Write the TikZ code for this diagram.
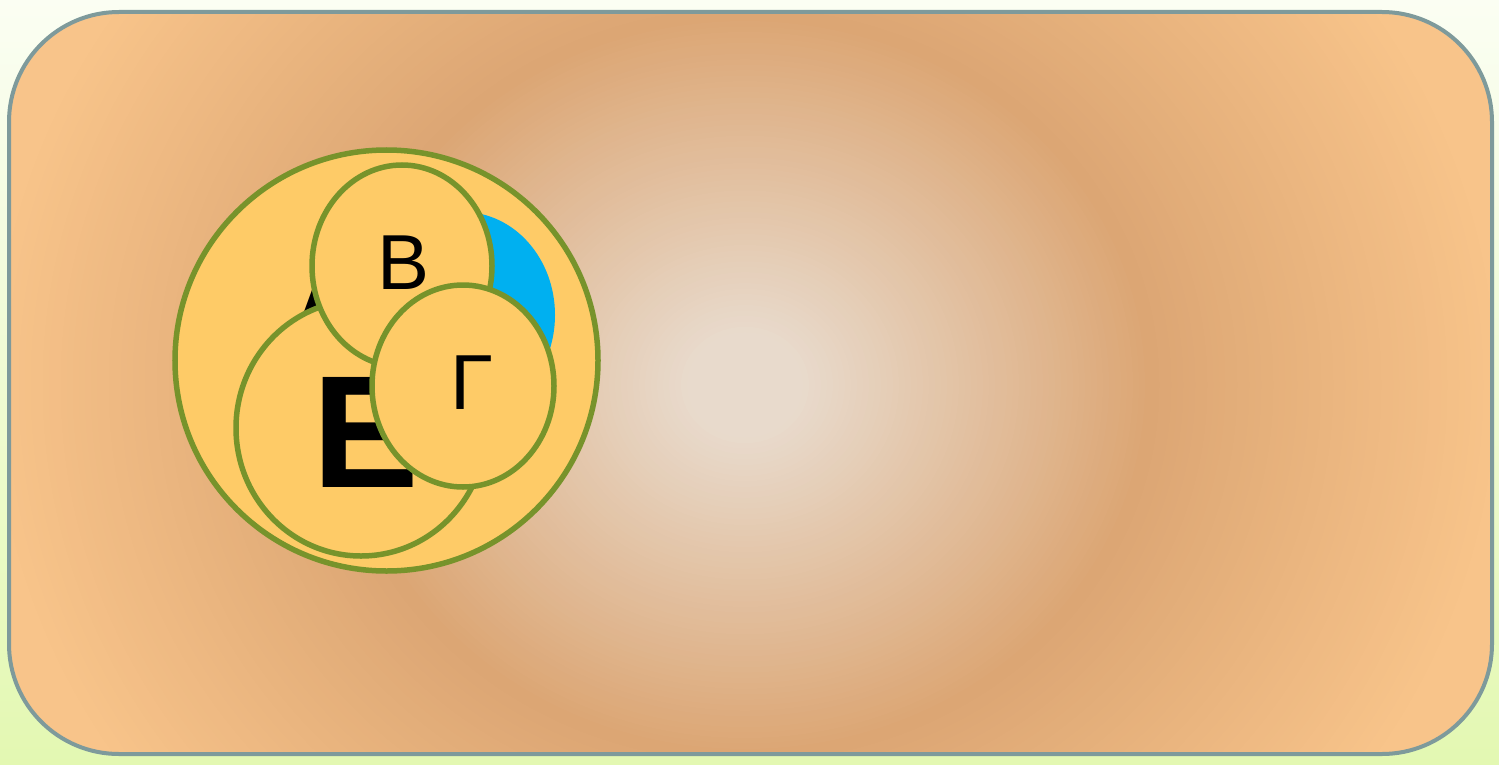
\documentclass[tikz,border=0pt]{standalone}
\usepackage{fontspec}
\setmainfont{Liberation Sans}
\usetikzlibrary{shapes.geometric}
\definecolor{bgtop}{HTML}{FBFEF3}
\definecolor{bgbot}{HTML}{E3F8B2}
\definecolor{framec}{HTML}{7E9A9B}
\definecolor{gc}{HTML}{E8DACC}
\definecolor{gm}{HTML}{DCA674}
\definecolor{ge}{HTML}{F8C48A}
\definecolor{disk}{HTML}{FECB67}
\definecolor{rim}{HTML}{77932B}
\definecolor{skyb}{HTML}{00B0F0}
\begin{document}
\begin{tikzpicture}[x=1bp,y=-1bp,
  disc/.style={ellipse, draw=rim, line width=5.5bp, fill=disk, inner sep=0pt, outer sep=0pt},
  lbl/.style={inner sep=0pt, outer sep=0pt, text=black},
  bigfont/.style={font=\fontsize{160bp}{160bp}\selectfont\bfseries},
  smallfont/.style={font=\fontsize{78bp}{78bp}\selectfont}
]
\useasboundingbox (0,0) rectangle (1499,764);
\shade[top color=bgtop, bottom color=bgbot] (0,0) rectangle (1499,764);
\begin{scope}
\clip[rounded corners=110bp] (9,12) rectangle (1492,754);
\fill[ge] (0,0) rectangle (1499,764);
\foreach \r in {840,834,...,410}{
  \pgfmathsetmacro{\p}{min(100,(\r-410)/3.5)}
  \fill[ge!\p!gm] (745,385) ellipse [x radius=\r, y radius=0.91*\r];
}
\foreach \r in {406,400,...,6}{
  \pgfmathsetmacro{\p}{max(0,(\r-60)/3.46)}
  \fill[gm!\p!gc] (745,385) ellipse [x radius=\r, y radius=0.91*\r];
}
\end{scope}
\draw[framec, line width=4bp, rounded corners=110bp] (9,12) rectangle (1492,754);

\node[disc, minimum width=423bp, minimum height=421bp] (big) at (386.5,360.5) {};
\node[ellipse, fill=skyb, inner sep=0pt, outer sep=0pt, minimum width=184bp, minimum height=206bp] (delta) at (463,315) {};
\node[lbl, bigfont, anchor=base west] (alpha) at (278,372) {Α};
\node[disc, minimum width=250bp, minimum height=256bp] (epsC) at (361,428) {};
\node[lbl, bigfont, anchor=base west] (eps) at (312,487) {Ε};
\node[disc, minimum width=180bp, minimum height=202bp] (betaC) at (402,266) {};
\node[lbl, smallfont] (beta) at (404,262.5) {Β};
\node[disc, minimum width=182bp, minimum height=202bp] (gamC) at (463,386) {};
\node[lbl, smallfont] (gam) at (472,383) {Γ};
\end{tikzpicture}
\end{document}
